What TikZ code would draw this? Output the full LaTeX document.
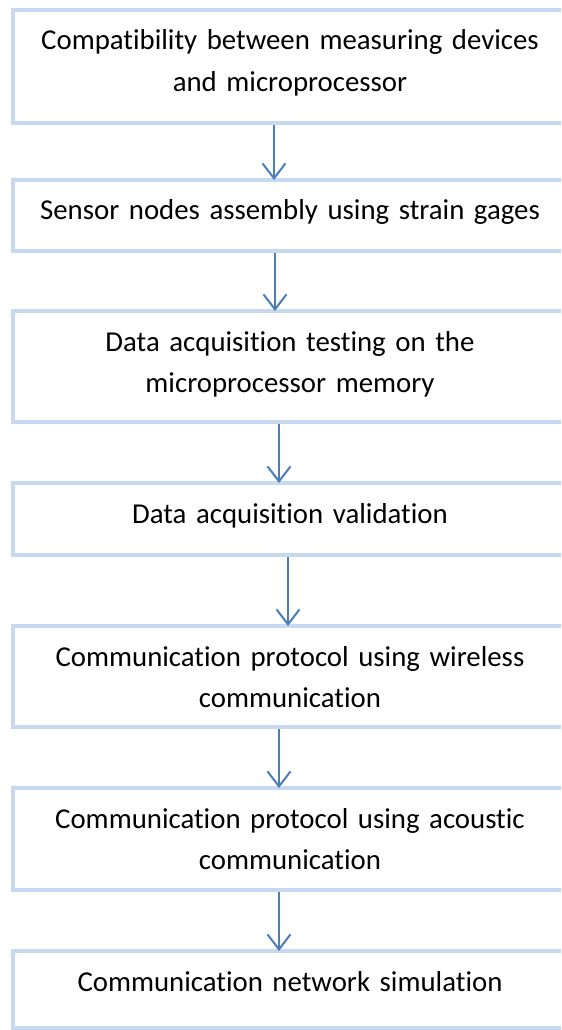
\documentclass[tikz,border=0pt]{standalone}
\usepackage{fontspec}
\setmainfont{Carlito}[RawFeature=-liga]
\usetikzlibrary{arrows.meta}
\definecolor{boxline}{HTML}{C6D9F1}
\definecolor{arrline}{HTML}{4A7EBB}
\begin{document}
\begin{tikzpicture}[x=1pt,y=-1pt,
  stepbox/.style={draw=boxline, line width=3pt, fill=white, rectangle,
    minimum width=415.5pt, inner sep=0pt, outer sep=0pt, anchor=north},
  steptext/.style={anchor=north, inner sep=0pt, outer sep=0pt, text width=415.5pt,
    align=center, font=\fontsize{21.6pt}{31.1pt}\selectfont},
  arr/.style={draw=arrline, line width=1.5pt,
    -{Straight Barb[length=11.25pt, width=17.25pt, line width=1.5pt]}}
]
\useasboundingbox (0,0) rectangle (420.75,772.5);
\clip (0,0) rectangle (420.75,772.5);
\fill[white] (0,0) rectangle (420.75,772.5);

\node[stepbox, minimum height=85.1pt] (b1) at (217.5,7.5) {};
\node[steptext] (t1) at (b1.north) {\rule{0pt}{30pt}Compatibility between measuring devices\\and microprocessor};

\node[stepbox, minimum height=53.25pt] (b2) at (217.5,135) {};
\node[steptext] (t2) at (b2.north) {\rule{0pt}{30pt}Sensor nodes assembly using strain gages};

\node[stepbox, minimum height=83.6pt] (b3) at (217.5,233.25) {};
\node[steptext] (t3) at (b3.north) {\rule{0pt}{30pt}Data acquisition testing on the\\microprocessor memory};

\node[stepbox, minimum height=54pt] (b4) at (217.5,362.25) {};
\node[steptext] (t4) at (b4.north) {\rule{0pt}{30pt}Data acquisition validation};

\node[stepbox, minimum height=75.75pt] (b5) at (217.5,469.5) {};
\node[steptext] (t5) at (b5.north) {\rule{0pt}{30pt}Communication protocol using wireless\\communication};

\node[stepbox, minimum height=76.5pt] (b6) at (217.5,591) {};
\node[steptext] (t6) at (b6.north) {\rule{0pt}{30pt}Communication protocol using acoustic\\communication};

\node[stepbox, minimum height=57.75pt] (b7) at (217.5,713.25) {};
\node[steptext] (t7) at (b7.north) {\rule{0pt}{30pt}Communication network simulation};

\draw[arr] ([xshift=-12pt,yshift=-1.5pt]b1.south) -- ([xshift=-12pt]b1.south |- b2.north);
\draw[arr] ([xshift=-11.25pt,yshift=-1.5pt]b2.south) -- ([xshift=-11.25pt]b2.south |- b3.north);
\draw[arr] ([xshift=-8.25pt,yshift=-1.5pt]b3.south) -- ([xshift=-8.25pt]b3.south |- b4.north);
\draw[arr] ([xshift=-1.5pt,yshift=-1.5pt]b4.south) -- ([xshift=-1.5pt]b4.south |- b5.north);
\draw[arr] ([xshift=-8.25pt,yshift=-1.5pt]b5.south) -- ([xshift=-8.25pt]b5.south |- b6.north);
\draw[arr] ([xshift=-8.25pt,yshift=-1.5pt]b6.south) -- ([xshift=-8.25pt]b6.south |- b7.north);
\end{tikzpicture}
\end{document}
